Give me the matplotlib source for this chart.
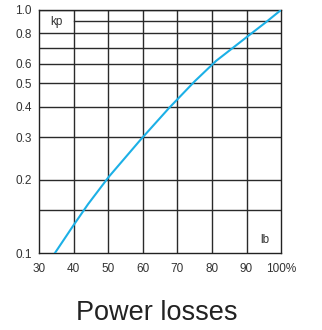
import matplotlib
matplotlib.use('Agg')
import matplotlib.pyplot as plt
from matplotlib.ticker import FixedLocator, NullLocator

# load (%) vs power-loss factor
load = [34.6, 39.8, 44.2, 50.2, 59.5, 67.6, 75.1, 81.2, 91.6, 95.7, 100]
kp = [0.1, 0.129, 0.159, 0.206, 0.294, 0.395, 0.51, 0.617, 0.804, 0.892,
      1.0]

xticks = [30, 40, 50, 60, 70, 80, 90, 100]
xlabels = ['30', '40', '50', '60', '70', '80', '90', '100%']
yticks = [0.1, 0.2, 0.3, 0.4, 0.5, 0.6, 0.8, 1.0]
ylabels = ['0.1', '0.2', '0.3', '0.4', '0.5', '0.6', '0.8', '1.0']
hgrid = [0.15, 0.2, 0.3, 0.4, 0.5, 0.6, 0.7, 0.8, 1.0]

plt.rcParams['font.family'] = ['Liberation Sans', 'DejaVu Sans']

fig = plt.figure(figsize=(3.22, 3.30), dpi=100)
ax = fig.add_axes([0.121, 0.233, 0.752, 0.737])

ax.set_yscale('log')
ax.set_xlim(30, 100)
ax.set_ylim(0.1, 1.0)

GRID = '#2a2a2a'
for x in xticks[1:-1]:
    ax.axvline(x, color=GRID, lw=1.0, zorder=1)
for y in hgrid:
    ax.axhline(y, color=GRID, lw=1.0, zorder=1)
# 0.9 line leaves the first column free for the "kp" box
ax.plot([40, 100], [0.9, 0.9], color=GRID, lw=1.0, zorder=1)

ax.plot(load, kp, color='#1cb0e6', lw=1.5, zorder=3)

ax.xaxis.set_major_locator(FixedLocator(xticks))
ax.set_xticklabels(xlabels)
ax.yaxis.set_major_locator(FixedLocator(yticks))
ax.set_yticklabels(ylabels)
ax.yaxis.set_minor_locator(NullLocator())
ax.tick_params(length=0, labelsize=8.5, colors='#333333')
ax.tick_params(axis='x', pad=7)
ax.tick_params(axis='y', pad=5)
for s in ax.spines.values():
    s.set_color('#222222')
    s.set_linewidth(1.0)

ax.text(35, 0.895, 'kp', ha='center', va='center', fontsize=8.5,
        color='#333333')
ax.text(95.4, 0.113, 'lb', ha='center', va='center', fontsize=8.5,
        color='#333333')

fig.text(0.488, 0.05, 'Power losses', ha='center', va='center',
         fontsize=19.5, color='#222222')

plt.savefig('out.png', dpi=100)
